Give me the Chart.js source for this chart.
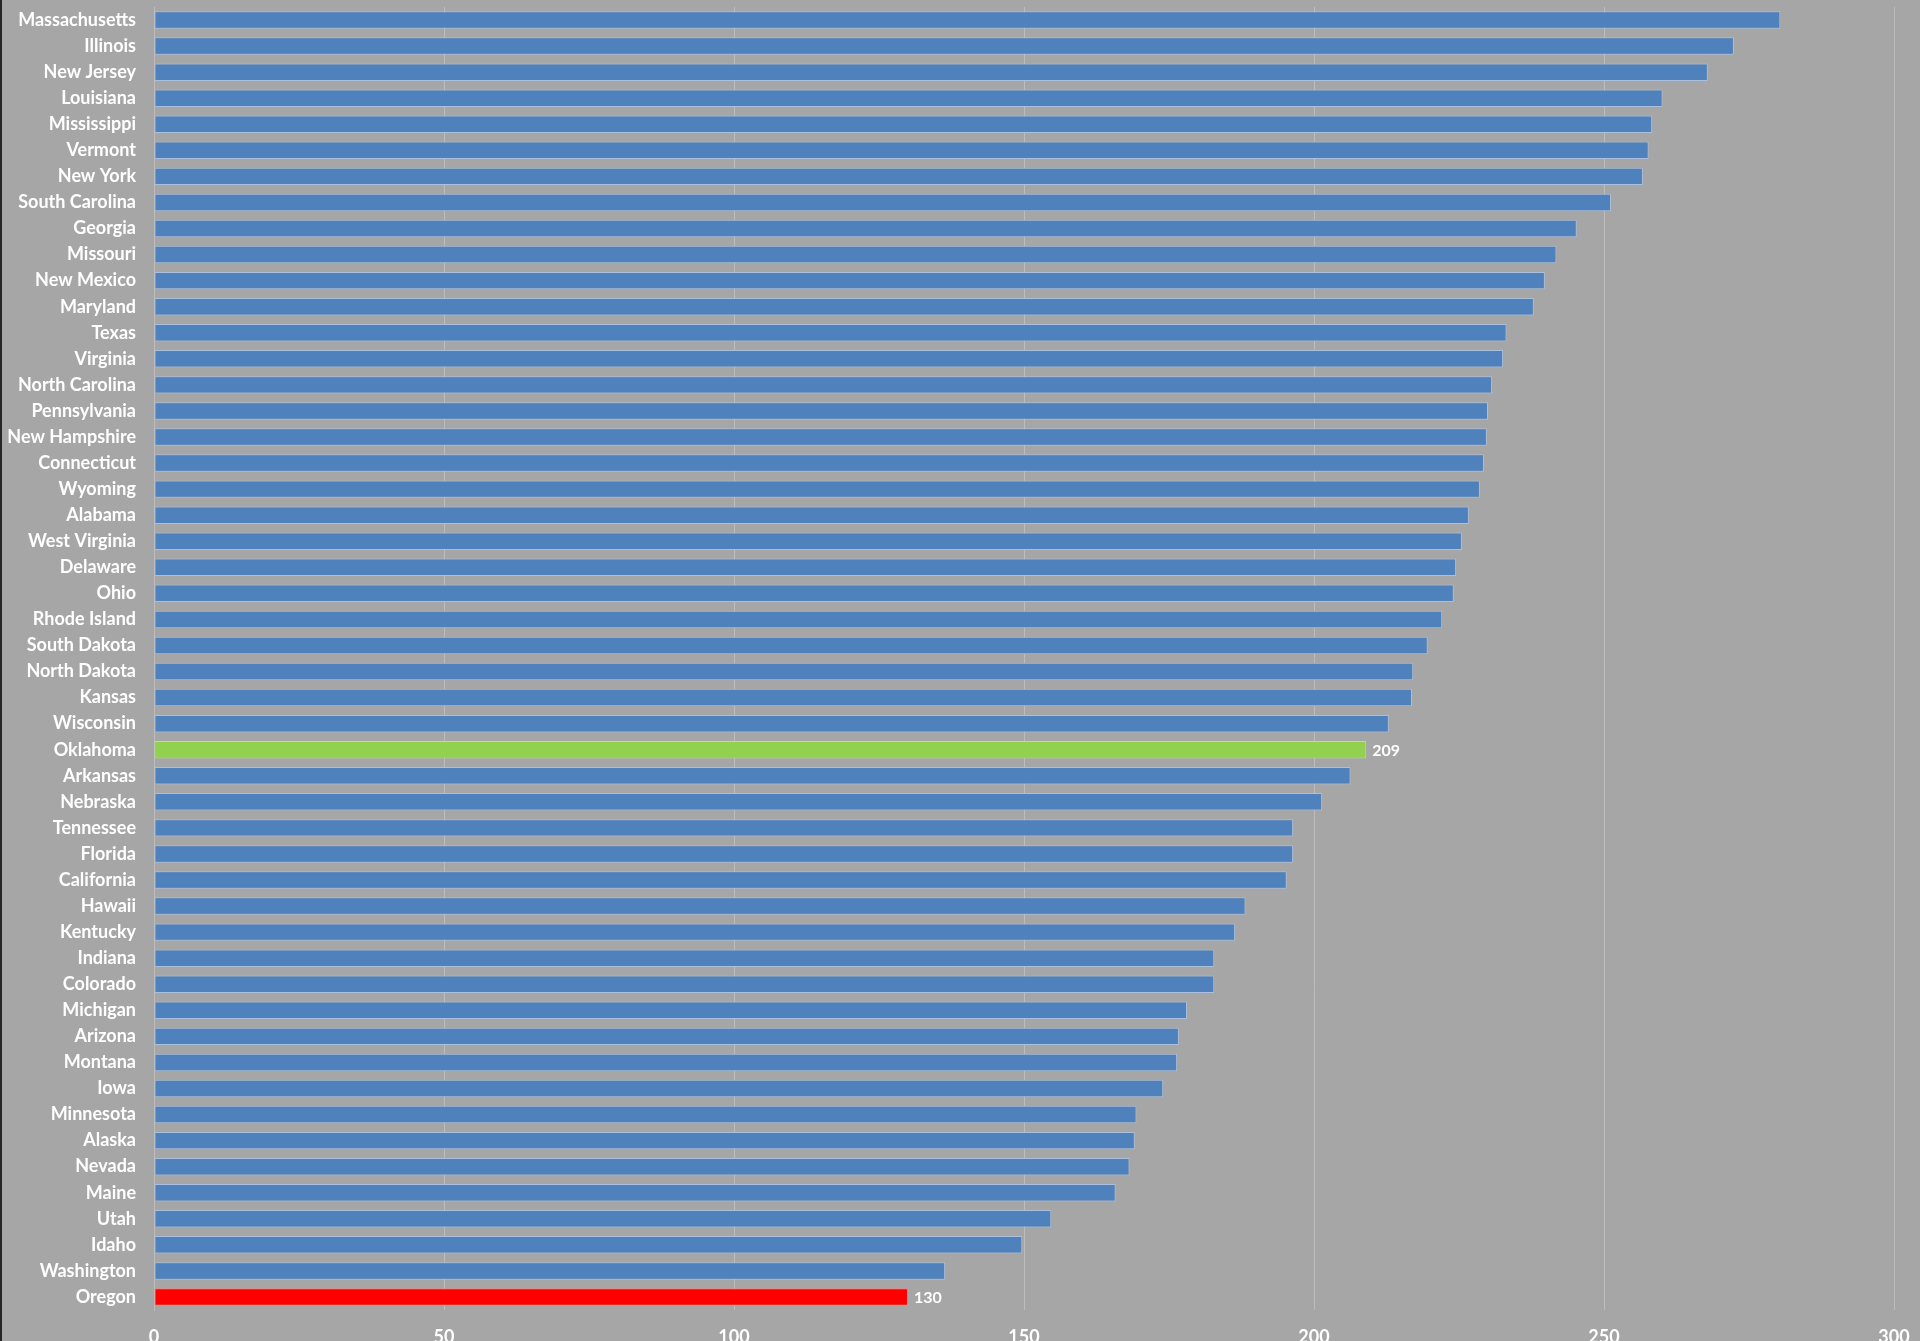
<!DOCTYPE html>
<html>
<head>
<meta charset="utf-8">
<script src="https://cdn.jsdelivr.net/npm/chart.js@4"></script>
<style>
  html, body { margin: 0; padding: 0; overflow: hidden; background: #a6a6a6; }
  #wrap { position: relative; width: 1920px; height: 1352px; }
  #wrap::before { content: ""; position: absolute; left: 0; top: 0; width: 2px; height: 100%; background: #262626; z-index: 2; }
</style>
</head>
<body>
<div id="wrap"><canvas id="chart" width="1920" height="1352"></canvas></div>
<script>
const states = [
  "Massachusetts", "Illinois", "New Jersey", "Louisiana", "Mississippi", "Vermont", "New York",
  "South Carolina", "Georgia", "Missouri", "New Mexico", "Maryland", "Texas", "Virginia",
  "North Carolina", "Pennsylvania", "New Hampshire", "Connecticut", "Wyoming", "Alabama",
  "West Virginia", "Delaware", "Ohio", "Rhode Island", "South Dakota", "North Dakota", "Kansas",
  "Wisconsin", "Oklahoma", "Arkansas", "Nebraska", "Tennessee", "Florida", "California", "Hawaii",
  "Kentucky", "Indiana", "Colorado", "Michigan", "Arizona", "Montana", "Iowa", "Minnesota",
  "Alaska", "Nevada", "Maine", "Utah", "Idaho", "Washington", "Oregon"
];

const values = [
  280.4, 272.4, 267.9, 260.1, 258.3, 257.7, 256.7,
  251.2, 245.3, 241.8, 239.8, 237.9, 233.2, 232.6,
  230.7, 230.0, 229.8, 229.3, 228.6, 226.7,
  225.5, 224.5, 224.1, 222.1, 219.6, 217.1, 216.9,
  212.9, 209, 206.3, 201.4, 196.4, 196.4, 195.3, 188.2,
  186.4, 182.8, 182.8, 178.1, 176.7, 176.4, 174.0, 169.4,
  169.1, 168.2, 165.8, 154.7, 149.7, 136.4, 130
];

// only these two bars get a value label
const shownLabels = { "Oklahoma": "209", "Oregon": "130" };

const xTicks = [0, 50, 100, 150, 200, 250, 300];

const barColors = states.map((s) => s == "Oklahoma" ? "#92d050" : (s == "Oregon" ? "#ff0000" : "#4f81bd"));
const edgeColors = states.map((s) => s == "Oklahoma" ? "#b9e08f" : (s == "Oregon" ? "#ff7f7f" : "#a9c0de"));

const valueLabels = {
  id: "valueLabels",
  afterDatasetsDraw(chart) {
    const ctx = chart.ctx;
    const meta = chart.getDatasetMeta(0);
    ctx.save();
    ctx.font = "bold 16px Lato";
    ctx.fillStyle = "#ffffff";
    ctx.textAlign = "left";
    ctx.textBaseline = "middle";
    meta.data.forEach((bar, i) => {
      const txt = shownLabels[states[i]];
      if (txt) ctx.fillText(txt, bar.x + 6, bar.y + 1);
    });
    ctx.restore();
  }
};

new Chart(document.getElementById("chart"), {
  type: "bar",
  data: {
    labels: states,
    datasets: [{
      data: values,
      backgroundColor: barColors,
      borderColor: edgeColors,
      borderWidth: 1,
      borderSkipped: false,
      barPercentage: 0.67,
      categoryPercentage: 1
    }]
  },
  options: {
    indexAxis: "y",
    responsive: false,
    animation: false,
    devicePixelRatio: 1,
    layout: { padding: { top: 7, right: 26, left: 0, bottom: 0 } },
    plugins: {
      legend: { display: false },
      tooltip: { enabled: false }
    },
    scales: {
      x: {
        min: 0,
        max: 300,
        afterBuildTicks: (scale) => { scale.ticks = xTicks.map((v) => ({ value: v })); },
        afterFit: (scale) => {
          scale.height = 42;
          scale.paddingLeft = 0;
          scale.paddingRight = 0;
        },
        grid: { color: "#bdbdbd", lineWidth: 1, drawTicks: false },
        border: { display: false },
        ticks: {
          color: "#ffffff",
          padding: 16,
          font: { family: "Lato", weight: "bold", size: 18 }
        }
      },
      y: {
        afterFit: (scale) => {
          scale.width = 154;
          scale.paddingTop = 0;
          scale.paddingBottom = 0;
        },
        grid: { display: false, drawTicks: false },
        border: { display: true, color: "#bdbdbd", width: 1 },
        ticks: {
          color: "#ffffff",
          padding: 18,
          autoSkip: false,
          font: { family: "Lato", weight: "bold", size: 18 }
        }
      }
    }
  },
  plugins: [valueLabels]
});
</script>
</body>
</html>
